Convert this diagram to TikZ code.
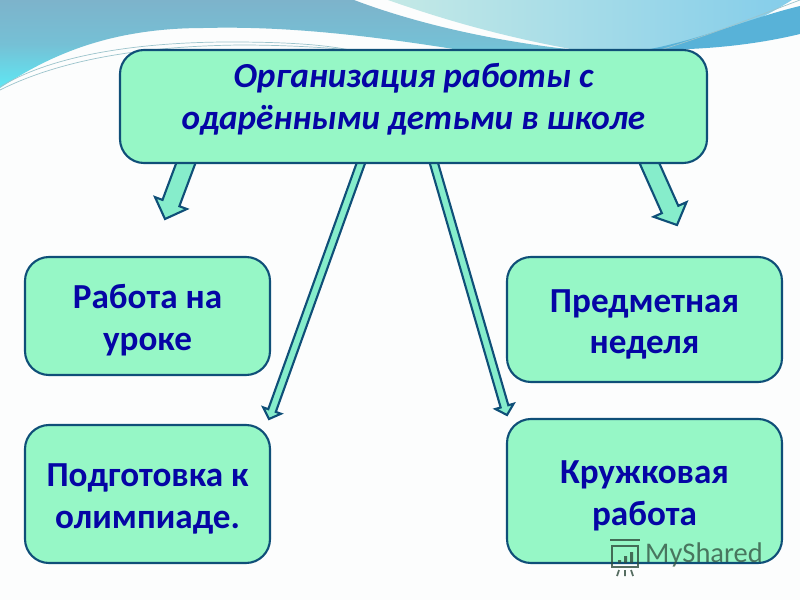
\documentclass[tikz,border=0pt]{standalone}
\usepackage{fontspec}
\setmainfont{Carlito}
\usetikzlibrary{calc,backgrounds}
\definecolor{caixa}{HTML}{96F7C6}
\definecolor{seta}{HTML}{86EDCB}
\definecolor{borda}{HTML}{0F4F78}
\definecolor{texto}{HTML}{0505A5}
\definecolor{ondaA}{HTML}{7DB3CB}
\definecolor{ondaB}{HTML}{5EE8F4}
\definecolor{ondaC}{HTML}{C4E9E6}
\definecolor{ondaD}{HTML}{84CDEA}
\definecolor{ondaE}{HTML}{58B2D8}
\definecolor{fundo}{HTML}{FCFDFD}
\definecolor{fios}{HTML}{9CC4CC}
\newcommand{\desce}{\mbox{}\\[-2.6pt]}
\newcommand{\blocoseta}[5]{
\coordinate(#2base)at($(#2)!#5!(#1)$);
\draw[seta corpo]($(#1)!#3!90:(#2)$)--($(#2base)!#3!90:(#2)$)--($(#2base)!#4!90:(#2)$)--(#2)--($(#2base)!#4!-90:(#2)$)--($(#2base)!#3!-90:(#2)$)--($(#1)!#3!-90:(#2)$)--cycle;
}
\begin{document}
\begin{tikzpicture}
\tikzstyle{caixa lado}=[draw=borda, line width=.6pt, fill=caixa, rounded corners=.24cm, align=center, text=texto, inner sep=0, font=\fontsize{10}{11.8}\selectfont\bfseries]
\tikzstyle{seta corpo}=[draw=borda, line width=.6pt, fill=seta, line join=miter]
\tikzstyle{onda}=[draw=none]
\tikzstyle{fio}=[draw=fios, line width=.2pt]
\tikzstyle{marca}=[black!70!caixa, opacity=.8]
\useasboundingbox(0,0)rectangle(8,6);
\path[onda, top color=ondaA, bottom color=ondaB, middle color=ondaA!75!ondaB](0,6)--(3.54,6)..controls(4.2,5.75)and(5,5.58)..(5.76,5.5)--(4.6,5.5)..controls(3.6,5.66)and(2.8,5.74)..(2.04,5.72)..controls(1.1,5.72)and(.5,5.45)..(0,5.12)--cycle;
\path[onda, left color=ondaC, right color=ondaD](3.88,6)..controls(4.5,5.78)and(5.1,5.62)..(5.76,5.5)--(6.6,5.5)..controls(7.2,5.6)and(7.6,5.8)..(7.92,6)--cycle;
\path[onda, fill=ondaE](6.45,5.5)..controls(7,5.6)and(7.5,5.82)..(8,5.94)--(8,5.66)..controls(7.5,5.54)and(7,5.5)..(6.45,5.5)--cycle;
\draw[fio](0,5.13)..controls(.6,5.5)and(1.6,5.58)..(2.3,5.58)..controls(2.8,5.58)and(3.2,5.56)..(3.5,5.5);
\draw[fio](0,5.1)..controls(.7,5.45)and(1.6,5.54)..(2.4,5.55)..controls(2.8,5.55)and(3.2,5.53)..(3.5,5.5);
\draw[fio](6.6,5.5)..controls(7.1,5.65)and(7.6,5.85)..(8,6);
\node[caixa lado, minimum width=5.87cm, minimum height=1.13cm](titulo)at(4.135,4.935){\itshape Организация работы с\\\itshape одарёнными детьми в школе\\[-6pt]\mbox{}};
\node[caixa lado, minimum width=2.45cm, minimum height=1.18cm](uroke)at(1.475,2.84){\desce Работа на\\уроке};
\node[caixa lado, minimum width=2.45cm, minimum height=1.38cm](olimpiada)at(1.475,1.06){\desce Подготовка к\\олимпиаде.};
\node[caixa lado, minimum width=2.75cm, minimum height=1.25cm](nedelya)at(6.445,2.805){\desce Предметная\\неделя};
\node[caixa lado, minimum width=2.75cm, minimum height=1.44cm](kruzhok)at(6.445,1.09){\desce Кружковая\\работа};
\node[text=black!65!caixa, opacity=.8, font=\fontsize{8.1}{9}\selectfont](marcatexto)at(7.04,.45){MyShared};
\draw[marca, line width=.5pt](6.12,.54)rectangle(6.38,.33);
\draw[marca, line width=.5pt](6.1,.6)--(6.4,.6);
\fill[marca](6.18,.37)rectangle(6.21,.4)(6.24,.37)rectangle(6.27,.44)(6.3,.37)rectangle(6.33,.48);
\draw[marca, line width=.5pt](6.19,.3)--(6.17,.24)(6.25,.3)--(6.25,.24)(6.31,.3)--(6.33,.24);
\begin{scope}[on background layer]
\fill[fundo](0,0)rectangle(8,6);
\coordinate(a1)at(1.87,4.4);
\coordinate(b1)at(1.65,3.81);
\coordinate(a2)at(3.62,4.4);
\coordinate(b2)at(2.69,1.81);
\coordinate(a3)at(4.33,4.4);
\coordinate(b3)at(5.07,1.85);
\coordinate(a4)at(6.48,4.4);
\coordinate(b4)at(6.77,3.75);
\blocoseta{a1}{b1}{.09cm}{.17cm}{.17cm}
\blocoseta{a2}{b2}{.04cm}{.095cm}{.09cm}
\blocoseta{a3}{b3}{.04cm}{.095cm}{.09cm}
\blocoseta{a4}{b4}{.09cm}{.18cm}{.17cm}
\end{scope}
\end{tikzpicture}
\end{document}
